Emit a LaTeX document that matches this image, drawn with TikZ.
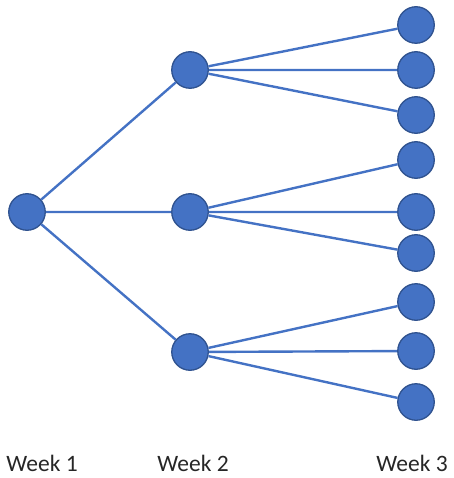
\documentclass[tikz,border=0pt]{standalone}
\usepackage{fontspec}
\setmainfont{Carlito}
\usepackage{tikz}
\usetikzlibrary{positioning}
\definecolor{nodeblue}{RGB}{68,114,196}
\definecolor{edgeblue}{RGB}{47,82,143}

\begin{document}
\begin{tikzpicture}[
    x=1pt, y=-1pt,
    dot/.style={circle, draw=edgeblue, fill=nodeblue, line width=1.3pt,
                minimum size=36.5pt, inner sep=0pt},
    link/.style={draw=nodeblue, line width=2.4pt},
    week/.style={font=\fontsize{23.5}{28}\selectfont, text=black!85,
                 inner sep=0pt, anchor=base}
  ]
    \useasboundingbox (0,0) rectangle (453,478);
    % week 1 and week 2
    \node[dot] (root) at (27,212) {};
    \node[dot] (wa) at (190,70)  {};
    \node[dot] (wb) at (190,212) {};
    \node[dot] (wc) at (190,352) {};
    % week 3
    \node[dot] (a1) at (416,25)  {};
    \node[dot] (a2) at (416,70)  {};
    \node[dot] (a3) at (416,115) {};
    \node[dot] (b1) at (416,160) {};
    \node[dot] (b2) at (416,212) {};
    \node[dot] (b3) at (416,253) {};
    \node[dot] (c1) at (416,302) {};
    \node[dot] (c2) at (416,351) {};
    \node[dot] (c3) at (416,402) {};
    \path[link] (root)--(wa) (root)--(wb) (root)--(wc);
    \path[link] (wa)--(a1) (wa)--(a2) (wa)--(a3);
    \path[link] (wb)--(b1) (wb)--(b2) (wb)--(b3);
    \path[link] (wc)--(c1) (wc)--(c2) (wc)--(c3);
    \node[week] (w1) at (42,471)  {Week 1};
    \node[week] (w2) at (193,471) {Week 2};
    \node[week] (w3) at (412,471) {Week 3};
\end{tikzpicture}
\end{document}
